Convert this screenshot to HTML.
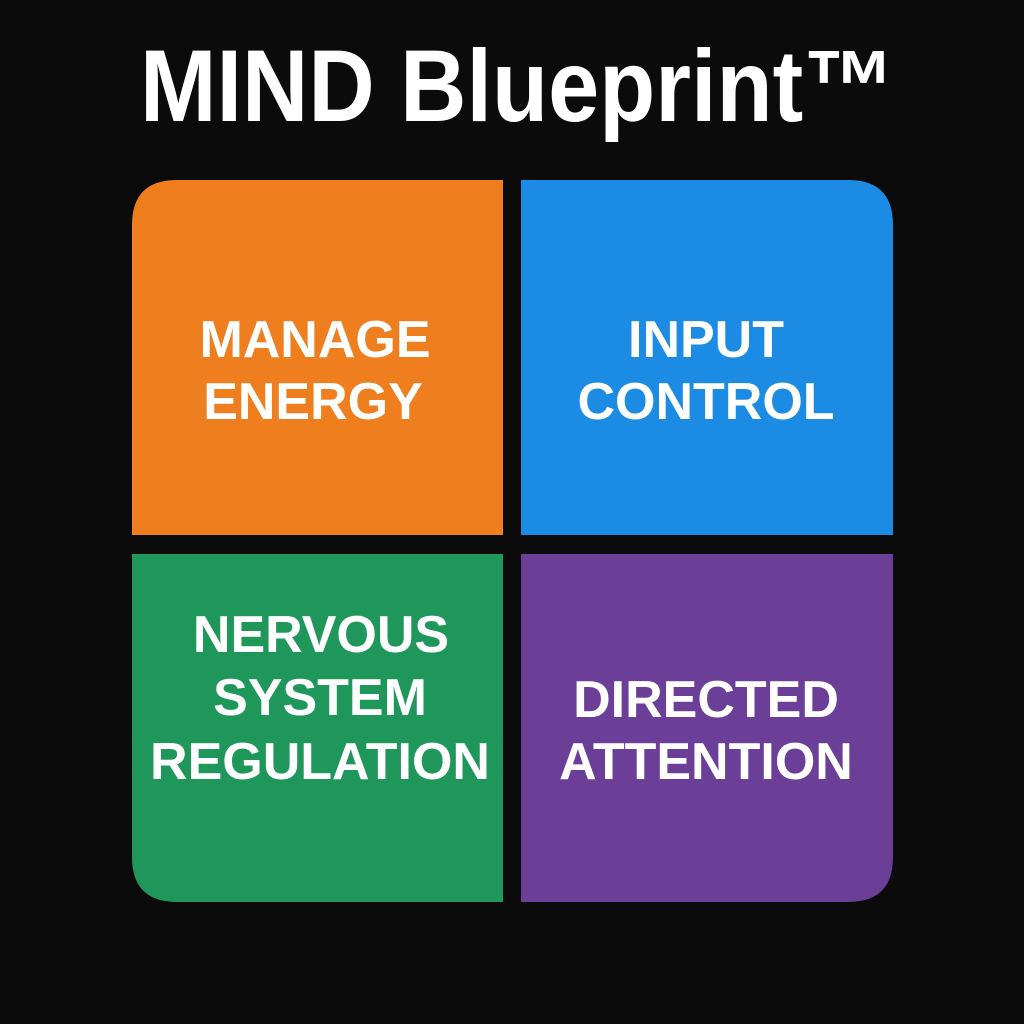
<!DOCTYPE html>
<html><head><meta charset="utf-8"><style>
html,body{margin:0;padding:0;background:#0b0b0b;}
svg{display:block}
text{font-family:"Liberation Sans",Arial,sans-serif;font-weight:bold;fill:#fff;}
</style></head><body>
<svg width="1024" height="1024" viewBox="0 0 1024 1024">
<rect width="1024" height="1024" fill="#0b0b0b"/>
<text x="140" y="121" font-size="102" textLength="755" lengthAdjust="spacingAndGlyphs">MIND Blueprint™</text>
<path d="M177 180 H503 V535 H132 V225 Q132 180 177 180 Z" fill="#EE7E1E"/>
<path d="M521 180 H848 Q893 180 893 225 V535 H521 Z" fill="#1C8BE3"/>
<path d="M132 554 H503 V902 H177 Q132 902 132 857 Z" fill="#20975A"/>
<path d="M521 554 H893 V857 Q893 902 848 902 H521 Z" fill="#6B3E98"/>
<g font-size="52" text-anchor="middle">
<text x="315" y="357">MANAGE</text>
<text x="313" y="419">ENERGY</text>
<text x="706" y="357">INPUT</text>
<text x="706" y="419">CONTROL</text>
<text x="321" y="652">NERVOUS</text>
<text x="320" y="715">SYSTEM</text>
<text x="320" y="779">REGULATION</text>
<text x="706" y="717">DIRECTED</text>
<text x="706" y="779">ATTENTION</text>
</g>
</svg>
</body></html>
